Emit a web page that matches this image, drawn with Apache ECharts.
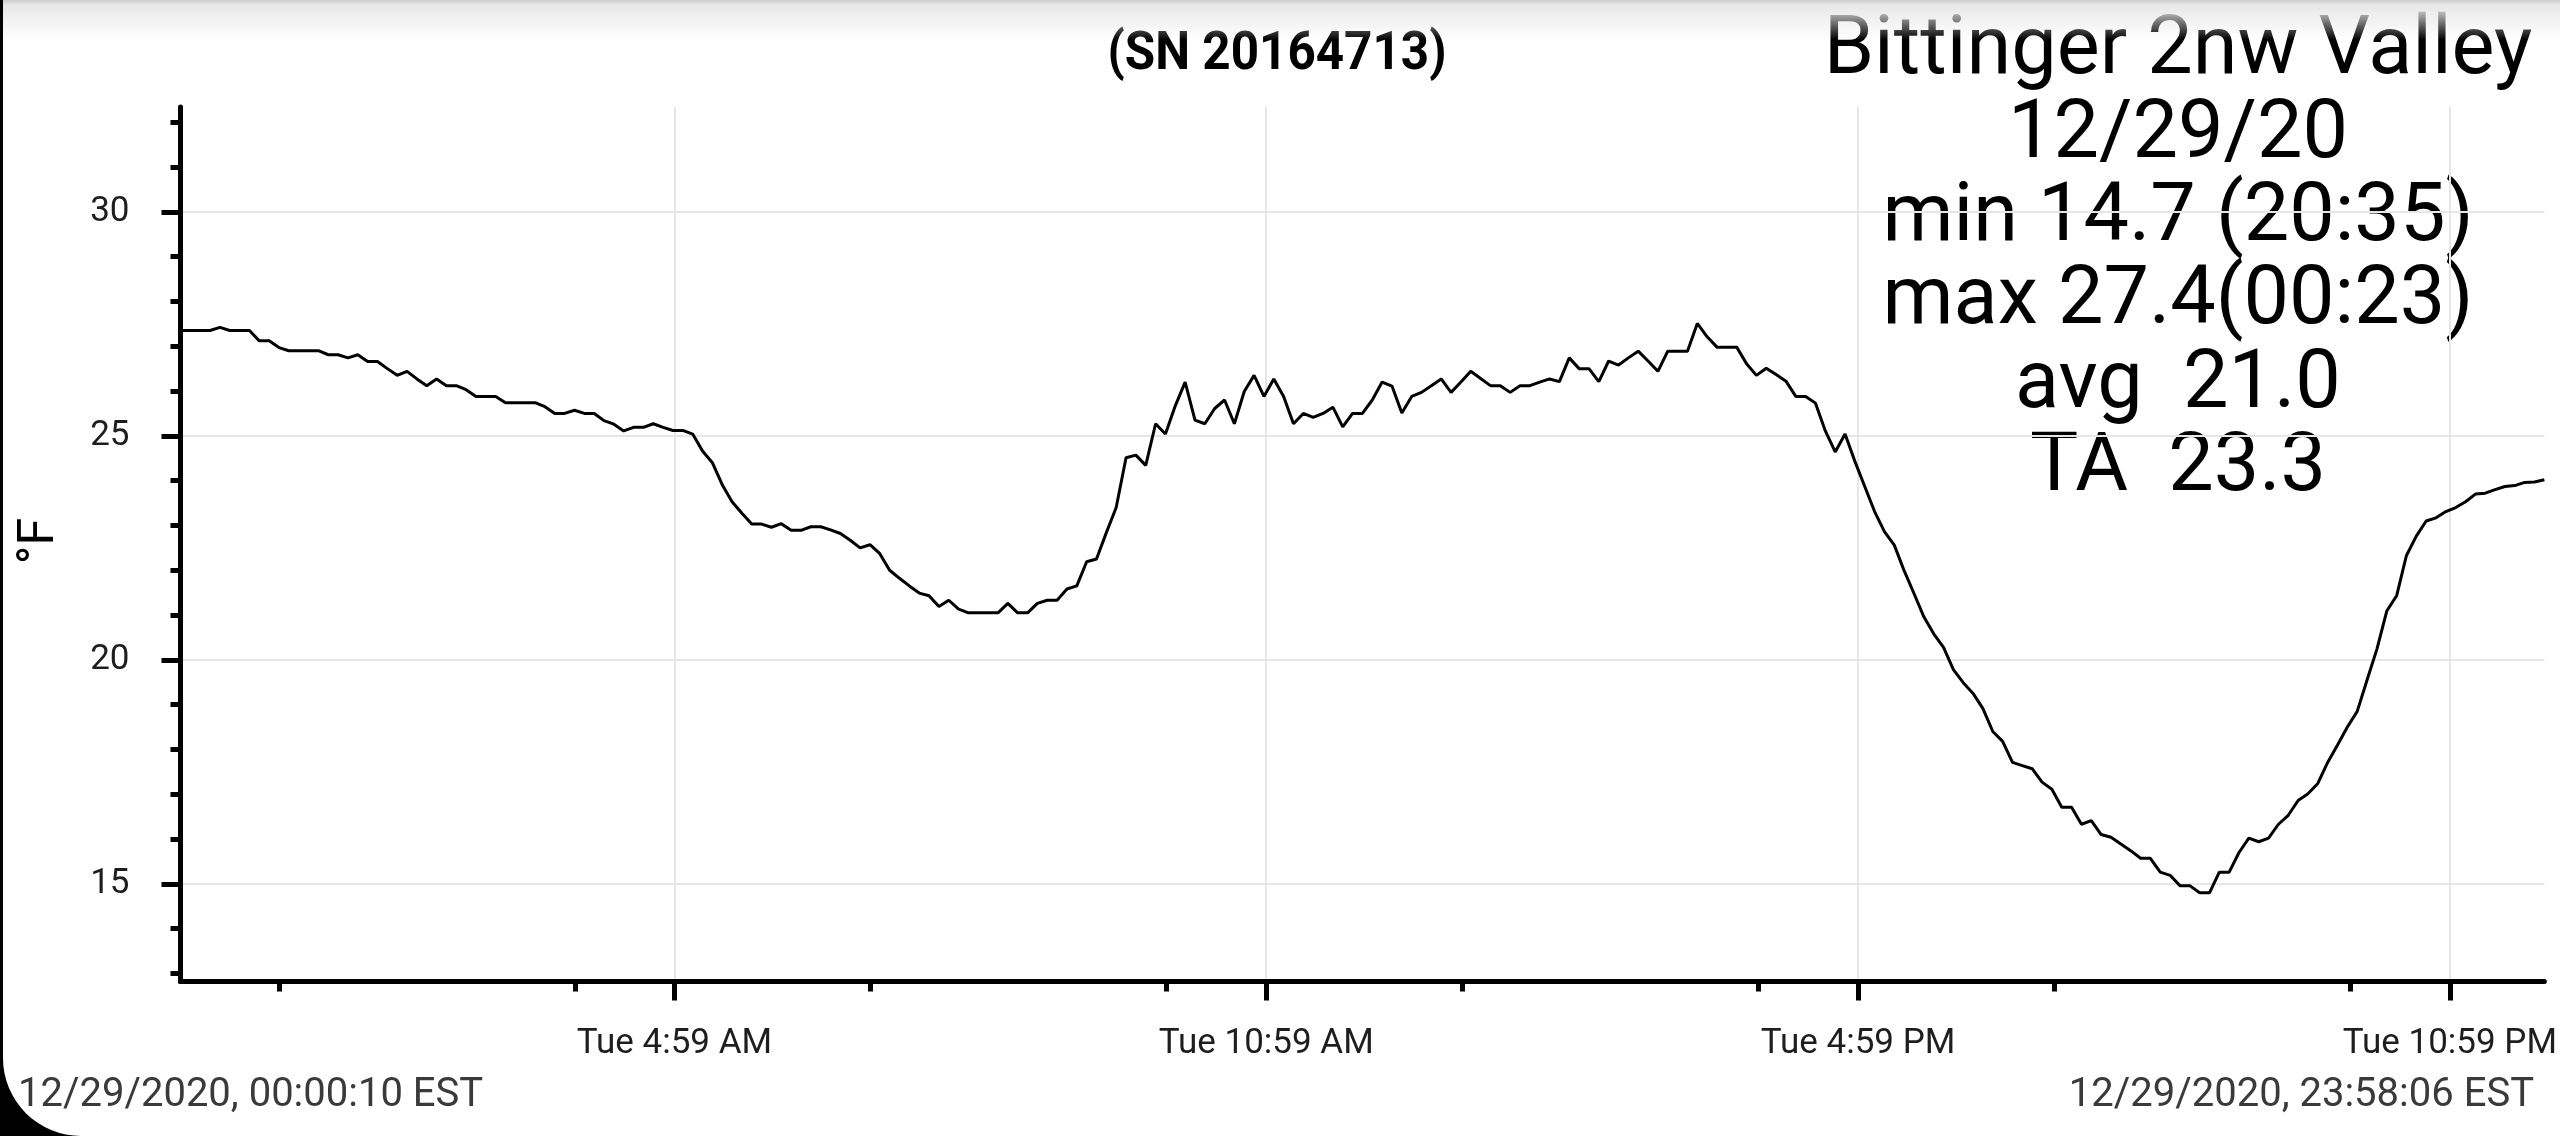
<!DOCTYPE html>
<html>
<head>
<meta charset="utf-8">
<script src="https://cdn.jsdelivr.net/npm/echarts@6/dist/echarts.min.js"></script>
<style>
html,body{margin:0;padding:0;background:#fff;width:2560px;height:1136px;overflow:hidden}
#c{position:absolute;left:0;top:0;width:2560px;height:1136px}
#topshade{position:absolute;left:0;top:0;width:2560px;height:40px;background:linear-gradient(to bottom,#cdcdcd 0px,#e8e8e8 5px,rgba(255,255,255,0) 40px);pointer-events:none}
#frame{position:absolute;left:3px;top:-300px;width:2800px;height:1436px;border-bottom-left-radius:78px;box-shadow:0 0 0 400px #000;pointer-events:none}
</style>
</head>
<body>
<div id="c"></div>
<div id="topshade"></div>
<div id="frame"></div>
<script>
// ---- data ----
const temps = [
  27.35,27.35,27.35,27.35,27.42,27.35,27.35,27.35,27.12,27.12,
  26.97,26.9,26.9,26.9,26.9,26.81,26.81,26.74,26.81,26.66,
  26.66,26.5,26.35,26.44,26.27,26.12,26.27,26.12,26.12,26.03,
  25.88,25.88,25.88,25.74,25.74,25.74,25.74,25.65,25.5,25.5,
  25.57,25.5,25.5,25.34,25.26,25.11,25.19,25.19,25.27,25.19,
  25.12,25.12,25.04,24.66,24.4,23.91,23.53,23.27,23.03,23.03,
  22.96,23.04,22.89,22.89,22.97,22.97,22.9,22.82,22.67,22.5,
  22.57,22.37,22.0,21.82,21.65,21.49,21.43,21.19,21.33,21.13,
  21.05,21.05,21.05,21.05,21.26,21.05,21.05,21.26,21.33,21.33,
  21.58,21.65,22.19,22.25,22.84,23.4,24.51,24.57,24.34,25.27,
  25.04,25.67,26.2,25.35,25.27,25.61,25.8,25.27,25.99,26.35,
  25.88,26.27,25.88,25.27,25.5,25.41,25.5,25.64,25.2,25.5,
  25.5,25.8,26.2,26.11,25.51,25.88,25.97,26.12,26.27,25.97,
  26.2,26.44,26.28,26.12,26.12,25.97,26.12,26.12,26.2,26.27,
  26.21,26.74,26.5,26.5,26.21,26.67,26.58,26.74,26.89,26.67,
  26.44,26.89,26.89,26.89,27.51,27.21,26.98,26.98,26.98,26.61,
  26.35,26.51,26.37,26.22,25.88,25.88,25.73,25.11,24.64,25.04,
  24.43,23.87,23.31,22.86,22.56,21.99,21.48,20.96,20.58,20.28,
  19.78,19.49,19.25,18.91,18.4,18.18,17.71,17.64,17.57,17.27,
  17.11,16.71,16.71,16.33,16.41,16.1,16.04,15.89,15.74,15.57,
  15.57,15.26,15.19,14.96,14.96,14.8,14.8,15.26,15.26,15.7,
  16.02,15.94,16.02,16.33,16.53,16.86,17.01,17.24,17.71,18.1,
  18.5,18.85,19.55,20.24,21.09,21.43,22.33,22.76,23.1,23.17,
  23.31,23.4,23.53,23.7,23.72,23.8,23.87,23.89,23.96,23.97,
  24.02
];
const tStart = 0.00278;   // 00:00:10 in hours
const tEnd = 23.968;      // 23:58:06 in hours
const xMajorTicks = [5.01, 11.01, 17.01, 23.01];
const xMajorLabels = ['Tue 4:59 AM', 'Tue 10:59 AM', 'Tue 4:59 PM', 'Tue 10:59 PM'];
const xMinorTicks = [1, 4, 7, 10, 13, 16, 19, 22];
const yMajorTicks = [15, 20, 25, 30];
const yMinorTicks = [13,14,16,17,18,19,21,22,23,24,26,27,28,29,31,32];
const yMin = 12.82, yMax = 32.34;
const serialText = '(SN 20164713)';
const infoLines = ['Bittinger 2nw Valley', '12/29/20', 'min 14.7 (20:35)', 'max 27.4(00:23)', 'avg  21.0', 'TA  23.3'];
const yName = '°F';
const startStamp = '12/29/2020, 00:00:10 EST';
const endStamp = '12/29/2020, 23:58:06 EST';

// ---- build ----
const step = (tEnd - tStart) / (temps.length - 1);
const seriesData = temps.map((v, i) => [tStart + i * step, v]);

const FONT = 'Roboto';
const graphics = [];
infoLines.forEach((t, i) => {
  graphics.push({
    type: 'text', x: 2178, y: 53 + i * 83.4, silent: true,
    style: { text: t, fontSize: 81, fontFamily: FONT, fill: '#000', align: 'center', verticalAlign: 'middle' }
  });
});
graphics.push({
  type: 'text', x: 1277, y: 55, scaleX: 0.915, silent: true,
  style: { text: serialText, fontSize: 54, fontWeight: 'bold', fontFamily: FONT, fill: '#000', align: 'center', verticalAlign: 'middle' }
});
graphics.push({
  type: 'text', x: 40, y: 541, rotation: Math.PI / 2, silent: true,
  style: { text: yName, fontSize: 50, fontFamily: FONT, fill: '#000', align: 'center', verticalAlign: 'middle' }
});
graphics.push({
  type: 'text', x: 18, y: 1096, silent: true,
  style: { text: startStamp, fontSize: 40, fontFamily: FONT, fill: '#3a3a3a', align: 'left', verticalAlign: 'middle' }
});
graphics.push({
  type: 'text', x: 2534, y: 1096, silent: true,
  style: { text: endStamp, fontSize: 40, fontFamily: FONT, fill: '#3a3a3a', align: 'right', verticalAlign: 'middle' }
});

const chart = echarts.init(document.getElementById('c'));
chart.setOption({
  animation: false,
  backgroundColor: '#fff',
  textStyle: { fontFamily: FONT },
  grid: { left: 180.5, right: 6, top: 107, bottom: 154.5, containLabel: false },
  xAxis: [
    {
      type: 'value', min: tStart, max: tEnd, position: 'bottom',
      axisLine: { show: true, onZero: false, lineStyle: { color: '#000', width: 5 } },
      axisTick: { show: true, customValues: xMajorTicks, length: 19, lineStyle: { color: '#000', width: 5 } },
      axisLabel: {
        show: true, customValues: xMajorTicks, margin: 45, fontSize: 35, fontFamily: FONT, color: '#1e1e1e',
        formatter: function (v) {
          let best = 0;
          xMajorTicks.forEach((t, i) => { if (Math.abs(t - v) < Math.abs(xMajorTicks[best] - v)) best = i; });
          return xMajorLabels[best];
        }
      },
      splitLine: { show: true, lineStyle: { color: '#e6e6e6', width: 2 } }
    },
    {
      type: 'value', min: tStart, max: tEnd, position: 'bottom',
      axisLine: { show: false, onZero: false },
      axisTick: { show: true, customValues: xMinorTicks, length: 10, lineStyle: { color: '#000', width: 5 } },
      axisLabel: { show: false },
      splitLine: { show: false }
    }
  ],
  yAxis: [
    {
      type: 'value', min: yMin, max: yMax, position: 'left',
      axisLine: { show: true, onZero: false, lineStyle: { color: '#000', width: 5 } },
      axisTick: { show: true, customValues: yMajorTicks, length: 19, lineStyle: { color: '#000', width: 5 } },
      axisLabel: { show: true, customValues: yMajorTicks, margin: 51, fontSize: 35, fontFamily: FONT, color: '#1e1e1e' },
      splitLine: { show: true, lineStyle: { color: '#e6e6e6', width: 2 } }
    },
    {
      type: 'value', min: yMin, max: yMax, position: 'left',
      axisLine: { show: false, onZero: false },
      axisTick: { show: true, customValues: yMinorTicks, length: 10, lineStyle: { color: '#000', width: 5 } },
      axisLabel: { show: false },
      splitLine: { show: false }
    }
  ],
  series: [{
    type: 'line', xAxisIndex: 0, yAxisIndex: 0, data: seriesData,
    showSymbol: false, symbol: 'none', smooth: false,
    lineStyle: { color: '#000', width: 3 }, silent: true
  }],
  graphic: graphics
});
</script>
</body>
</html>
